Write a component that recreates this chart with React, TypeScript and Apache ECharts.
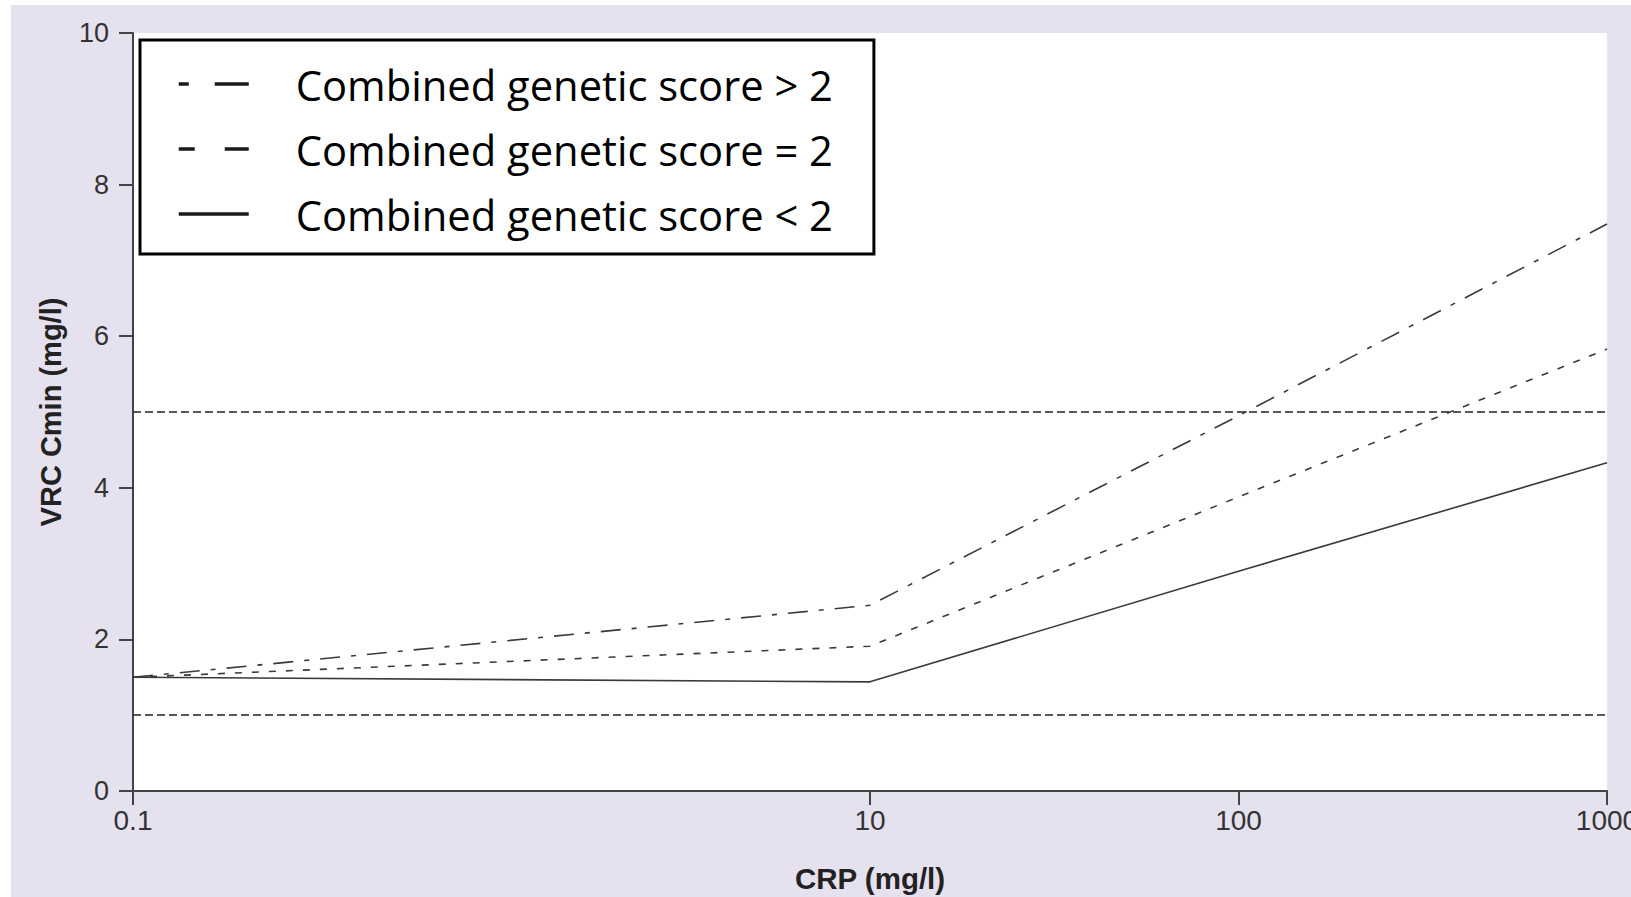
import React, { useEffect, useRef } from "react";
import * as echarts from "echarts";

// CRP (mg/l) positions of the model lines
const crpValues = [0.1, 10, 100, 1000];
// VRC Cmin (mg/l) for each combined genetic score group
const scoreAbove2 = [1.5, 2.45, 4.95, 7.48];
const scoreEqual2 = [1.5, 1.91, 3.88, 5.83];
const scoreBelow2 = [1.5, 1.44, 2.9, 4.33];
// therapeutic range limits (horizontal dashed lines)
const targetRange = [5, 1];
const seriesNames = [
  "Combined genetic score > 2",
  "Combined genetic score = 2",
  "Combined genetic score < 2",
];
const xTickValues = [0.1, 10, 100, 1000];

const lineColor = "#3a3a3a";

export default function App() {
  const ref = useRef<HTMLDivElement>(null);

  useEffect(() => {
    if (!ref.current) return;
    const chart = echarts.init(ref.current, undefined, { renderer: "svg" });
    const pairs = (ys: number[]) => crpValues.map((x, i) => [x, ys[i]]);
    const fmt = (v: number) => String(+Number(v).toPrecision(6));

    chart.setOption({
      animation: false,
      backgroundColor: "transparent",
      grid: {
        left: 133,
        right: 24,
        top: 33,
        bottom: 106,
        containLabel: false,
        outerBoundsMode: "none",
        show: true,
        backgroundColor: "#ffffff",
        borderWidth: 0,
      },
      legend: {
        orient: "vertical",
        left: 140,
        top: 40,
        padding: [19, 41, 15, 37],
        itemGap: 15,
        itemWidth: 70,
        itemHeight: 20,
        backgroundColor: "#ffffff",
        borderColor: "#000000",
        borderWidth: 3,
        borderRadius: 0,
        selectedMode: false,
        itemStyle: { opacity: 0 },
        textStyle: {
          fontFamily: "Open Sans",
          fontSize: 41.7,
          color: "#000000",
          lineHeight: 50,
          padding: [0, 0, 0, 42],
        },
        data: [
          { name: seriesNames[0], lineStyle: { width: 3.5, color: "#1a1a1a", type: [10, 26, 34, 100] } },
          { name: seriesNames[1], lineStyle: { width: 3.5, color: "#1a1a1a", type: [16, 30, 24, 100] } },
          { name: seriesNames[2], lineStyle: { width: 3.5, color: "#1a1a1a", type: "solid" } },
        ],
      },
      xAxis: {
        type: "log",
        logBase: 10,
        min: 0.1,
        max: 1000,
        name: "CRP (mg/l)",
        nameLocation: "middle",
        nameGap: 72,
        nameTextStyle: {
          fontFamily: "Liberation Sans",
          fontWeight: "bold",
          fontSize: 29.5,
          color: "#222222",
        },
        axisLine: { show: true, onZero: false, lineStyle: { color: "#444444", width: 2 } },
        axisTick: {
          show: true,
          length: 14,
          customValues: xTickValues,
          lineStyle: { color: "#444444", width: 2 },
        },
        axisLabel: {
          customValues: xTickValues,
          fontFamily: "Liberation Sans",
          fontSize: 28,
          color: "#333333",
          margin: 15,
          hideOverlap: false,
          formatter: (v: number) => fmt(v),
        },
        splitLine: { show: false },
        minorSplitLine: { show: false },
      },
      yAxis: {
        type: "value",
        min: 0,
        max: 10,
        interval: 2,
        name: "VRC Cmin (mg/l)",
        nameLocation: "middle",
        nameGap: 68,
        nameTextStyle: {
          fontFamily: "Liberation Sans",
          fontWeight: "bold",
          fontSize: 29,
          color: "#222222",
        },
        axisLine: { show: true, onZero: false, lineStyle: { color: "#444444", width: 2 } },
        axisTick: { show: true, length: 14, lineStyle: { color: "#444444", width: 2 } },
        axisLabel: {
          fontFamily: "Liberation Sans",
          fontSize: 27,
          color: "#333333",
          margin: 24,
        },
        splitLine: { show: false },
      },
      series: [
        {
          type: "line",
          name: seriesNames[0],
          data: pairs(scoreAbove2),
          symbol: "none",
          lineStyle: { color: lineColor, width: 1.6, type: [20, 11, 5, 11] },
          itemStyle: { color: lineColor },
        },
        {
          type: "line",
          name: seriesNames[1],
          data: pairs(scoreEqual2),
          symbol: "none",
          lineStyle: { color: lineColor, width: 1.6, type: [7, 10] },
          itemStyle: { color: lineColor },
        },
        {
          type: "line",
          name: seriesNames[2],
          data: pairs(scoreBelow2),
          symbol: "none",
          lineStyle: { color: lineColor, width: 1.6, type: "solid" },
          itemStyle: { color: lineColor },
          markLine: {
            silent: true,
            symbol: "none",
            label: { show: false },
            lineStyle: { color: "#222222", width: 1.5, type: [8, 4] },
            data: targetRange.map((v) => ({ yAxis: v })),
          },
        },
      ],
    });

    return () => chart.dispose();
  }, []);

  return (
    <div
      style={{
        position: "fixed",
        left: 0,
        top: 0,
        width: 1631,
        height: 897,
        background: "#ffffff",
        overflow: "hidden",
      }}
    >
      <div
        style={{
          position: "absolute",
          left: 11,
          top: 5,
          right: 0,
          bottom: 0,
          background: "#E6E1EF",
        }}
      />
      <div
        ref={ref}
        style={{ position: "absolute", left: 0, top: 0, width: 1631, height: 897 }}
      />
    </div>
  );
}
